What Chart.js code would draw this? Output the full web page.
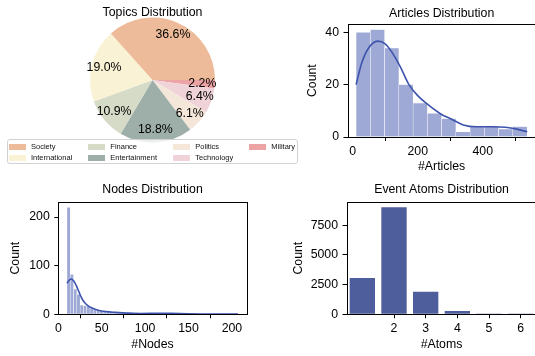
<!DOCTYPE html>
<html>
<head>
<meta charset="utf-8">
<script src="https://cdn.jsdelivr.net/npm/chart.js@4.4.1/dist/chart.umd.min.js"></script>
<style>
  html, body { margin: 0; padding: 0; background: #fff; overflow: hidden; width: 535px; height: 356px; }
  canvas { position: absolute; }
  #legend {
    position: absolute; left: 7px; top: 139px; width: 289px; height: 23px;
    border: 1px solid #d2d2d2; border-radius: 3px; background: rgba(255,255,255,0.8);
    font-family: 'Liberation Sans', Arial, sans-serif; font-size: 7.5px; color: #111;
  }
  .item { position: absolute; height: 8px; display: flex; align-items: center; white-space: nowrap; }
  .sw { width: 16.5px; height: 5.8px; margin-right: 5.5px; flex: none; }
</style>
</head>
<body>
<canvas id="pie" width="270" height="180" style="left:0;top:0"></canvas>
<canvas id="articles" width="270" height="180" style="left:270px;top:0"></canvas>
<canvas id="nodes" width="270" height="176" style="left:0;top:180px"></canvas>
<canvas id="atoms" width="270" height="176" style="left:270px;top:180px"></canvas>
<div id="legend"></div>
<script>
// ---- Topics (percent of stories) ----
const topicLabels = ['Society', 'International', 'Finance', 'Entertainment', 'Politics', 'Technology', 'Military'];
const topicShares = [36.6, 19.0, 10.9, 18.8, 6.1, 6.4, 2.2];
const topicColors = ['#EDBB99', '#FAF2D4', '#D5DBC7', '#9DAFA8', '#F5E6DA', '#EFD3D9', '#EBA3A3'];

// ---- Articles per story: histogram bins + density curve ----
const articleBinStart = 10.5;
const articleBinWidth = 43.84;
const articleCounts = [40, 41, 34, 20, 13, 9, 7, 2, 4, 4, 3, 4];
const articleKdeX = [10.5, 27, 48, 77, 100, 120, 145, 173, 200, 226, 272, 303, 340, 380, 430, 470, 505, 537];
const articleKdeY = [20.0, 28.0, 33.8, 36.6, 35.6, 32.5, 27.2, 20.0, 15.8, 12.9, 8.7, 6.9, 4.6, 3.9, 3.9, 3.7, 3.0, 2.0];
const articleXTicks = [0, 200, 400];
const articleYTicks = [0, 20, 40];

// ---- Nodes per graph ----
const nodeBinStart = 10;
const nodeBinWidth = 3.79;
const nodeCounts = [220, 82, 52, 41, 19, 18, 17, 13, 11, 9, 7, 6, 5, 5, 4, 4, 3, 3, 2, 2,
                    2, 1, 2, 1, 1, 1, 1, 2, 1, 2, 1, 1, 0, 1, 0, 1, 0, 0, 0, 0,
                    1, 0, 0, 0, 0, 0, 0, 0, 0, 0, 0, 1];
const nodeKdeX = [10, 12.5, 15, 18, 21, 24, 27, 30, 34, 39, 46, 55, 66, 80, 95, 110, 120, 130, 150, 175, 207];
const nodeKdeY = [64, 70, 72.5, 68, 58, 45, 33, 25, 18, 12.8, 8.2, 5.5, 4.0, 2.5, 1.6, 2.0, 2.3, 2.0, 1.0, 0.5, 0.6];
const nodeXTicks = [0, 50, 100, 150, 200];
const nodeYTicks = [0, 100, 200];

// ---- Event atoms per event ----
const atomCategories = ['1', '2', '3', '4', '5', '6'];
const atomCounts = [3050, 9000, 1900, 280, 25, 4];
const atomTickLabels = ['2', '3', '4', '5', '6'];
const atomYTicks = [0, 2500, 5000, 7500];

const KDE_COLOR = '#3E54AC';
const HIST_FILL = '#9EA9D5';
const BAR_FILL = '#4E5D9B';
const FONT = "'Liberation Sans', Arial, sans-serif";

Chart.defaults.font.family = FONT;
Chart.defaults.font.size = 12.3;
Chart.defaults.font.weight = 'normal';
Chart.defaults.color = '#000';
Chart.defaults.animation = false;

// Box around the plotting area (all four spines)
const frame = {
  id: 'frame',
  afterDatasetsDraw(chart) {
    const { ctx, chartArea: a } = chart;
    ctx.save();
    ctx.strokeStyle = '#000';
    ctx.lineWidth = 1;
    const l = Math.round(a.left) + 0.5, t = Math.round(a.top) + 0.5;
    ctx.strokeRect(l, t, Math.round(a.right) - Math.round(a.left), Math.round(a.bottom) - Math.round(a.top));
    ctx.restore();
  }
};

// Percentage text inside each pie wedge
const pctLabels = {
  id: 'pctLabels',
  afterDatasetsDraw(chart) {
    const { ctx } = chart;
    const meta = chart.getDatasetMeta(0);
    const values = chart.data.datasets[0].data;
    ctx.save();
    ctx.font = '12.3px ' + FONT;
    ctx.fillStyle = '#000';
    ctx.textAlign = 'center';
    ctx.textBaseline = 'middle';
    meta.data.forEach((arc, i) => {
      const p = arc.getProps(['x', 'y', 'startAngle', 'endAngle', 'outerRadius'], true);
      const mid = (p.startAngle + p.endAngle) / 2;
      const r = p.outerRadius * 0.8;
      ctx.fillText(values[i].toFixed(1) + '%', p.x + r * Math.cos(mid), p.y + r * Math.sin(mid));
    });
    ctx.restore();
  }
};

function fixedTicks(values) {
  return s => { s.ticks = values.map(v => ({ value: v })); };
}

function tickGrid() {
  return { drawOnChartArea: false, drawTicks: true, tickLength: 4, color: '#000', tickWidth: 1 };
}

// Title centred over the plotting area rather than the whole canvas
function titleOpts(text, top, bottom) {
  return { display: true, fullSize: false, text, color: '#000',
           font: { size: 12.3, weight: 'normal', lineHeight: 1.2 }, padding: { top, bottom } };
}

const plainNumber = v => String(v);

// ---------- Pie: wedges run counter-clockwise from 3 o'clock ----------
const pieOrder = topicLabels.map((_, i) => i).reverse();
new Chart(document.getElementById('pie'), {
  type: 'pie',
  data: {
    labels: pieOrder.map(i => topicLabels[i]),
    datasets: [{
      data: pieOrder.map(i => topicShares[i]),
      backgroundColor: pieOrder.map(i => topicColors[i]),
      borderWidth: 0
    }]
  },
  options: {
    responsive: false,
    rotation: 90,
    layout: { padding: { left: 90, right: 55, top: 0, bottom: 37.5 } },
    plugins: {
      legend: { display: false },
      tooltip: { enabled: false },
      title: { display: true, text: 'Topics Distribution', color: '#000',
               font: { size: 12.3, weight: 'normal', lineHeight: 1 }, padding: { top: 6.5, bottom: -1.3 } }
    }
  },
  plugins: [pctLabels]
});

// Legend laid out column by column, two rows
(function buildLegend() {
  const box = document.getElementById('legend');
  const colX = [1, 80.3, 165.3, 241.3];
  const rowY = [2.7, 13.7];
  topicLabels.forEach((name, i) => {
    const item = document.createElement('div');
    item.className = 'item';
    item.style.left = colX[Math.floor(i / 2)] + 'px';
    item.style.top = rowY[i % 2] + 'px';
    const sw = document.createElement('span');
    sw.className = 'sw';
    sw.style.background = topicColors[i];
    const label = document.createElement('span');
    label.textContent = name;
    item.appendChild(sw);
    item.appendChild(label);
    box.appendChild(item);
  });
})();

// ---------- Histogram with density curve ----------
function histogram(id, o) {
  const bars = o.counts.map((c, i) => ({ x: o.binStart + o.binWidth * (i + 0.5), y: c }));
  const kde = o.kdeX.map((x, i) => ({ x, y: o.kdeY[i] }));
  return new Chart(document.getElementById(id), {
    type: 'bar',
    data: {
      datasets: [
        { type: 'line', data: kde, borderColor: KDE_COLOR, borderWidth: 1.6, pointRadius: 0,
          cubicInterpolationMode: 'monotone', fill: false, order: 0 },
        { type: 'bar', data: bars, backgroundColor: HIST_FILL, borderColor: '#fff', borderWidth: 0.5,
          barPercentage: 1, categoryPercentage: 1, order: 1 }
      ]
    },
    options: {
      responsive: false,
      layout: { padding: { left: 0, right: o.padRight, top: 0, bottom: 0 } },
      plugins: {
        legend: { display: false },
        tooltip: { enabled: false },
        title: titleOpts(o.title, o.titleTop, o.titleBottom)
      },
      scales: {
        x: {
          type: 'linear', min: o.xMin, max: o.xMax, offset: false,
          afterBuildTicks: fixedTicks(o.xTicks),
          afterFit: s => { s.height = o.xHeight; },
          ticks: { padding: 3, maxRotation: 0, autoSkip: false, color: '#000', callback: plainNumber },
          grid: tickGrid(),
          border: { display: false },
          title: { display: true, text: o.xLabel, color: '#000', padding: { top: 0, bottom: o.xLabelPad } }
        },
        y: {
          type: 'linear', min: 0, max: o.yMax,
          afterBuildTicks: fixedTicks(o.yTicks),
          afterFit: s => { s.width = o.yWidth; },
          ticks: { padding: 4.5, color: '#000', callback: plainNumber },
          grid: tickGrid(),
          border: { display: false },
          title: { display: true, text: 'Count', color: '#000', padding: { top: o.yLabelPad, bottom: 0 } }
        }
      }
    },
    plugins: [frame]
  });
}

histogram('articles', {
  title: 'Articles Distribution', titleTop: 5.9, titleBottom: 3.6,
  counts: articleCounts, binStart: articleBinStart, binWidth: articleBinWidth,
  kdeX: articleKdeX, kdeY: articleKdeY,
  xMin: -16, xMax: 563, xTicks: articleXTicks, xLabel: '#Articles', xHeight: 43, xLabelPad: 5.9,
  yMax: 43.05, yTicks: articleYTicks, yWidth: 77.5, yLabelPad: 34.8,
  padRight: 4.3
});

histogram('nodes', {
  title: 'Nodes Distribution', titleTop: 2.6, titleBottom: 4.6,
  counts: nodeCounts, binStart: nodeBinStart, binWidth: nodeBinWidth,
  kdeX: nodeKdeX, kdeY: nodeKdeY,
  xMin: 0, xMax: 217, xTicks: nodeXTicks, xLabel: '#Nodes', xHeight: 41.7, xLabelPad: 4.3,
  yMax: 231, yTicks: nodeYTicks, yWidth: 58.3, yLabelPad: 7.9,
  padRight: 23.3
});

// ---------- Event atoms: count per atom number ----------
new Chart(document.getElementById('atoms'), {
  type: 'bar',
  data: {
    labels: atomCategories,
    datasets: [{ data: atomCounts, backgroundColor: BAR_FILL, borderWidth: 0,
                 barPercentage: 0.8, categoryPercentage: 1 }]
  },
  options: {
    responsive: false,
    layout: { padding: { left: 0, right: 3.5, top: 0, bottom: 0 } },
    plugins: {
      legend: { display: false },
      tooltip: { enabled: false },
      title: titleOpts('Event Atoms Distribution', 2.6, 4.6)
    },
    scales: {
      x: {
        type: 'category', offset: true,
        afterBuildTicks: s => { s.ticks = s.ticks.filter(t => atomTickLabels.includes(atomCategories[t.value])); },
        afterFit: s => { s.height = 41.7; },
        ticks: { padding: 3, maxRotation: 0, autoSkip: false, color: '#000' },
        grid: Object.assign(tickGrid(), { offset: false }),
        border: { display: false },
        title: { display: true, text: '#Atoms', color: '#000', padding: { top: 0, bottom: 4.3 } }
      },
      y: {
        type: 'linear', min: 0, max: 9450,
        afterBuildTicks: fixedTicks(atomYTicks),
        afterFit: s => { s.width = 76.5; },
        ticks: { padding: 4.5, color: '#000', callback: plainNumber },
        grid: tickGrid(),
        border: { display: false },
        title: { display: true, text: 'Count', color: '#000', padding: { top: 21.3, bottom: 0 } }
      }
    }
  },
  plugins: [frame]
});
</script>
</body>
</html>
